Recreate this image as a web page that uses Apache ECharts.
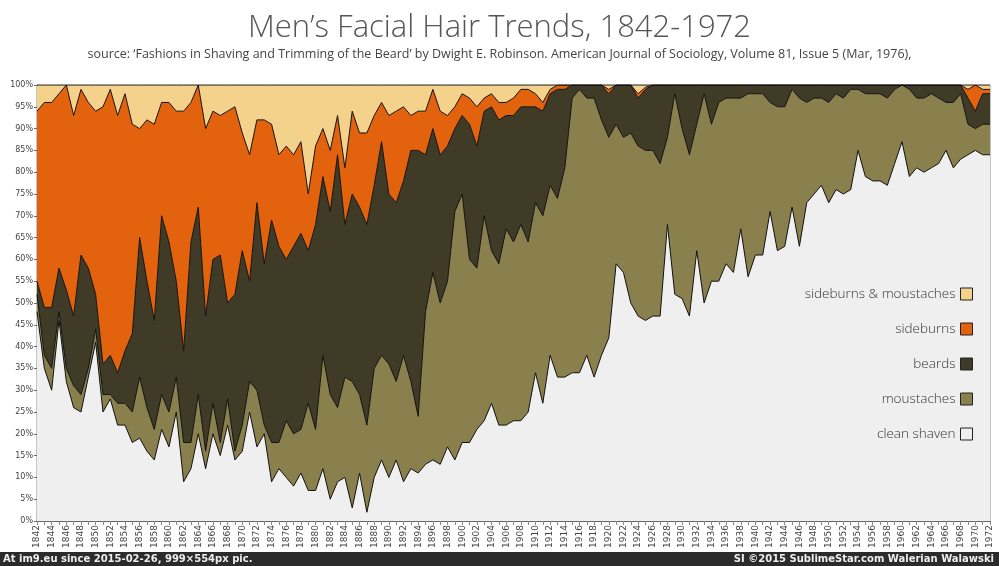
<!DOCTYPE html>
<html><head><meta charset="utf-8">
<script src="https://cdn.jsdelivr.net/npm/echarts@6/dist/echarts.min.js"></script>
<style>html,body{margin:0;padding:0;background:#fff}#c{width:999px;height:566px}</style>
</head><body><div id="c"></div>
<script>
const years = [];
for (let y = 1842; y <= 1972; y++) years.push(String(y));
const cleanShaven = [48,35,30,46,32,26,25,33,41,25, 28,22,22,18,19,16,14,21,17,25, 9,12,20,12,20,15,22,14,16,25, 17,20,9,12,10,8,11,7,7,12, 5,9,10,3,11,2,10,14,10,14, 9,12,11,13,14,13,17,14,18,18, 21,23,27,22,22,23,23,25,34,27, 38,33,33,34,34,38,33,38,42,59, 57,50,47,46,47,47,68,52,51,47, 62,50,55,55,59,57,67,56,61,61, 71,62,63,72,63,73,75,77,73,76, 75,76,85,79,78,78,77,82,87,79, 81,80,81,82,85,81,83,84,85,84, 84];
const moustaches = [4,3,5,2,3,5,4,2,3,4, 1,5,5,7,14,10,7,8,8,8, 9,6,9,4,7,3,6,2,6,7, 13,2,9,6,13,12,10,20,14,26, 24,17,23,29,18,20,25,24,26,18, 29,20,13,35,43,37,38,57,57,42, 37,47,35,37,45,41,45,39,39,43, 39,41,48,63,65,59,64,54,46,32, 31,39,39,39,38,35,20,46,39,37, 29,48,36,41,38,40,30,42,37,37, 25,33,32,27,34,23,22,20,23,22, 22,23,14,19,20,20,20,17,13,20, 16,17,17,15,11,15,15,7,5,7, 7];
const beards = [3,11,14,10,18,16,32,23,8,7, 9,7,12,18,32,29,25,41,39,22, 21,46,43,31,33,43,22,36,40,23, 43,37,51,45,37,43,45,35,47,41, 42,58,35,43,43,46,42,49,39,41, 40,53,61,36,33,34,31,19,18,31, 28,24,33,33,26,29,27,31,22,24, 21,25,18,3,1,3,3,8,10,9, 12,11,11,14,15,18,12,2,10,16, 9,2,9,4,3,3,3,2,2,2, 4,5,5,1,3,4,3,3,4,2, 3,1,1,2,2,2,3,1,0,1, 3,3,2,3,4,4,2,6,4,7, 7];
const sideburns = [39,47,47,40,47,46,38,38,42,59, 61,59,59,48,25,37,45,26,32,39, 55,32,28,43,34,32,44,43,27,29, 19,33,22,21,26,21,21,13,18,11, 14,9,13,19,17,21,16,9,18,21, 17,8,9,10,9,10,7,5,5,6, 9,3,3,4,3,4,4,4,3,2, 1,1,1,0,0,0,0,0,1,0, 0,0,1,0.5,0,0,0,0,0,0, 0,0,0,0,0,0,0,0,0,0, 0,0,0,0,0,0,0,0,0,0, 0,0,0,0,0,0,0,0,0,0, 0,0,0,0,0,0,0,2,6,1, 1];
const sideburnsMoustaches = [6,4,4,2,0,7,1,4,6,5, 1,7,2,9,10,8,9,4,4,6, 6,4,0,10,6,7,6,5,11,16, 8,8,9,16,14,16,13,25,14,10, 15,7,19,6,11,11,7,4,7,6, 5,7,6,6,1,6,7,5,2,3, 5,3,2,4,4,3,1,1,2,4, 1,0,0,0,0,0,0,0,1,0, 0,0,2,0.5,0,0,0,0,0,0, 0,0,0,0,0,0,0,0,0,0, 0,0,0,0,0,0,0,0,0,0, 0,0,0,0,0,0,0,0,0,0, 0,0,0,0,0,0,0,1,0,1, 1];

const names = ['clean shaven','moustaches','beards','sideburns','sideburns & moustaches'];
const colors = ['#efefef','#8a804e','#403b27','#e2620d','#f4d28c'];
const datas = [cleanShaven, moustaches, beards, sideburns, sideburnsMoustaches];

const chart = echarts.init(document.getElementById('c'));
chart.setOption({
  backgroundColor:'#fff',
  animation:false,
  title:[{text:'Men\u2019s Facial Hair Trends, 1842-1972',left:'center',top:8,
    textStyle:{fontFamily:'Open Sans',fontWeight:300,fontSize:31,color:'#555'}},
   {text:'source: \u2018Fashions in Shaving and Trimming of the Beard\u2019 by Dwight E. Robinson. American Journal of Sociology, Volume 81, Issue 5 (Mar, 1976),',
    left:'center',top:43,textStyle:{fontFamily:'Open Sans',fontWeight:400,fontSize:12.5,color:'#444'}}],
  grid:{left:37,right:9,top:85,bottom:45,show:true,backgroundColor:'#efefef',borderColor:'#888',borderWidth:1},
  legend:{orient:'vertical',right:21,top:282,align:'right',itemGap:21,itemWidth:12,itemHeight:12,icon:'rect',
    data:names.slice().reverse(),
    textStyle:{fontFamily:'Open Sans',fontWeight:300,fontSize:13.5,color:'#333'},
    itemStyle:{borderColor:'#222',borderWidth:1}},
  xAxis:{type:'category',data:years,boundaryGap:false,
    axisLine:{lineStyle:{color:'#666'}},
    axisTick:{interval:0,length:4,lineStyle:{color:'#888'}},
    axisLabel:{interval:1,rotate:90,fontSize:9,color:'#444',margin:4,fontFamily:'DejaVu Sans'}},
  yAxis:{type:'value',min:0,max:100,interval:5,
    axisLine:{show:true,lineStyle:{color:'#666'}},axisTick:{show:true,length:3},splitLine:{show:false},
    axisLabel:{formatter:'{value}%',fontSize:8,color:'#444',margin:4,fontFamily:'DejaVu Sans'}},
  series:names.map((n,i)=>({name:n,type:'line',stack:'all',data:datas[i],symbol:'none',
    lineStyle:{color:'#111',width:1},areaStyle:{color:colors[i],opacity:1},itemStyle:{color:colors[i]}})),
  graphic:[
    {type:'text',right:50,top:502,style:{text:'data visualization by',font:'300 14px "Open Sans"',fill:'#333'}},
    {type:'circle',shape:{cx:971,cy:508,r:11},style:{fill:'none',stroke:'#222',lineWidth:1.2}},
    {type:'line',shape:{x1:962,y1:513,x2:971,y2:506},style:{stroke:'#222',lineWidth:1.2}},
    {type:'rect',shape:{x:0,y:552,width:999,height:14},style:{fill:'#2b2b2b'}},
    {type:'text',left:3,top:554,style:{text:'At im9.eu since 2015-02-26, 999\u00d7554px pic.',font:'bold 10px "DejaVu Sans"',fill:'#eee'}},
    {type:'text',right:5,top:554,style:{text:'SI \u00a92015 SublimeStar.com Walerian Walawski',font:'bold 10px "DejaVu Sans"',fill:'#eee'}}
  ]
});
</script></body></html>
